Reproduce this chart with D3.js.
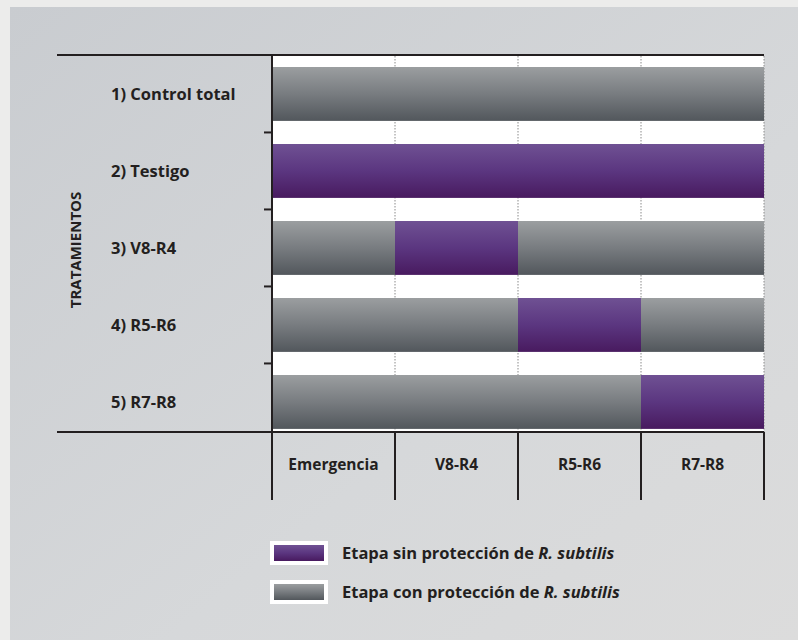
<!DOCTYPE html>
<html>
<head>
<meta charset="utf-8">
<script src="https://cdn.jsdelivr.net/npm/d3@7"></script>
<style>
  html, body { margin: 0; padding: 0; background: #ececeb; }
  svg { display: block; }
  text { font-family: "Open Sans", "Liberation Sans", sans-serif; font-weight: 700; fill: #231f20; }
</style>
</head>
<body>
<div id="root"></div>
<script>
const WIDTH = 798;
const HEIGHT = 640;

// data
const treatments = ['1) Control total', '2) Testigo', '3) V8-R4', '4) R5-R6', '5) R7-R8'];
const stages = ['Emergencia', 'V8-R4', 'R5-R6', 'R7-R8'];
// stage left unprotected in each treatment
const unprotected = [[], ['Emergencia', 'V8-R4', 'R5-R6', 'R7-R8'], ['V8-R4'], ['R5-R6'], ['R7-R8']];
const legendLabels = ['sin', 'con'];

const plot = {left: 272, right: 764, top: 56, bottom: 432};

const x = d3.scaleBand().domain(stages).range([plot.left, plot.right]);
const y = d3.scaleBand().domain(treatments)
    .range([67, 67 + 77 * (treatments.length - 0.3)])
    .paddingInner(0.3).paddingOuter(0);

const svg = d3.select('#root').append('svg')
    .attr('width', WIDTH)
    .attr('height', HEIGHT);

const defs = svg.append('defs');
const addGrad = (id, stops, x2, y2) => {
    const g = defs.append('linearGradient').attr('id', id)
        .attr('x1', 0).attr('y1', 0).attr('x2', x2).attr('y2', y2);
    stops.forEach(([o, c]) => g.append('stop').attr('offset', o).attr('stop-color', c));
};
addGrad('bg', [[0, '#c9ccd0'], [0.6, '#d6d8da'], [1, '#dcdcdc']], 1, 1);
addGrad('gray', [[0, '#9b9ea0'], [0.5, '#787c80'], [1, '#52575c']], 0, 1);
addGrad('purple', [[0, '#6f5193'], [0.5, '#5b3680'], [1, '#481a5f']], 0, 1);

const fill = s => s === 'sin' ? 'url(#purple)' : 'url(#gray)';

// panel
svg.append('rect')
    .attr('x', 10).attr('y', 7)
    .attr('width', WIDTH - 10).attr('height', HEIGHT - 7)
    .attr('fill', 'url(#bg)');

// plot background
svg.append('rect')
    .attr('x', plot.left).attr('y', plot.top)
    .attr('width', plot.right - plot.left).attr('height', plot.bottom - plot.top)
    .attr('fill', '#fff');

// dotted grid
svg.append('g').selectAll('line')
    .data(stages)
  .enter().append('line')
    .attr('x1', d => x(d) + x.bandwidth()).attr('x2', d => x(d) + x.bandwidth())
    .attr('y1', plot.top).attr('y2', plot.bottom)
    .attr('stroke', '#8a8a8a')
    .attr('stroke-width', 1)
    .attr('stroke-dasharray', '1.5,1.5');

// bars
const cells = [];
treatments.forEach((t, i) => stages.forEach(s => cells.push({
    t, s, status: unprotected[i].includes(s) ? 'sin' : 'con'
})));

svg.append('g').selectAll('rect')
    .data(cells)
  .enter().append('rect')
    .attr('x', d => x(d.s))
    .attr('y', d => y(d.t))
    .attr('width', x.bandwidth())
    .attr('height', y.bandwidth())
    .attr('fill', d => fill(d.status));

// frame lines
const dark = '#231f20';
svg.append('line')
    .attr('x1', 57).attr('x2', plot.right)
    .attr('y1', plot.top - 1).attr('y2', plot.top - 1)
    .attr('stroke', dark).attr('stroke-width', 2);
svg.append('line')
    .attr('x1', 57).attr('x2', plot.right)
    .attr('y1', plot.bottom).attr('y2', plot.bottom)
    .attr('stroke', dark).attr('stroke-width', 2);

// y axis with ticks between rows
const yAxis = d3.axisLeft(y).tickSize(0).tickFormat('');
const ya = svg.append('g')
    .attr('transform', `translate(${plot.left}, 0)`)
    .call(yAxis);
ya.select('.domain').remove();
ya.append('line')
    .attr('y1', plot.top - 1).attr('y2', 500)
    .attr('stroke', dark).attr('stroke-width', 2);
ya.selectAll('.between')
    .data(treatments.slice(1))
  .enter().append('line')
    .attr('x1', -8).attr('x2', 0)
    .attr('y1', d => y(d) - y.step() * y.paddingInner() / 2)
    .attr('y2', d => y(d) - y.step() * y.paddingInner() / 2)
    .attr('stroke', dark).attr('stroke-width', 2);

// row labels
svg.append('g').selectAll('text')
    .data(treatments)
  .enter().append('text')
    .attr('x', 111)
    .attr('y', d => y(d) + y.bandwidth() / 2)
    .attr('dy', '0.35em')
    .style('font-size', '16.5px')
    .text(d => d);

svg.append('text')
    .attr('transform', 'translate(81, 250) rotate(-90)')
    .style('text-anchor', 'middle')
    .style('font-size', '15px')
    .text('TRATAMIENTOS');

// column separators and labels
svg.append('g').selectAll('line')
    .data(stages)
  .enter().append('line')
    .attr('x1', d => x(d) + x.bandwidth()).attr('x2', d => x(d) + x.bandwidth())
    .attr('y1', plot.bottom).attr('y2', 500)
    .attr('stroke', dark).attr('stroke-width', 2);

svg.append('g').selectAll('text')
    .data(stages)
  .enter().append('text')
    .attr('x', d => x(d) + x.bandwidth() / 2)
    .attr('y', 470)
    .style('text-anchor', 'middle')
    .style('font-size', '15.5px')
    .text(d => d);

// legend
const legend = svg.selectAll('.legend')
    .data(legendLabels)
  .enter().append('g')
    .attr('class', 'legend')
    .attr('transform', (d, i) => `translate(270, ${541 + i * 39})`);

legend.append('rect')
    .attr('width', 58).attr('height', 24)
    .attr('fill', '#fff');
legend.append('rect')
    .attr('x', 4).attr('y', 4)
    .attr('width', 50).attr('height', 16)
    .attr('fill', fill);

const lt = legend.append('text')
    .attr('x', 72)
    .attr('y', 12)
    .attr('dy', '0.35em')
    .style('font-size', '16.5px');
lt.append('tspan').text(d => `Etapa ${d} protección de `);
lt.append('tspan').style('font-style', 'italic').text('R. subtilis');
</script>
</body>
</html>
